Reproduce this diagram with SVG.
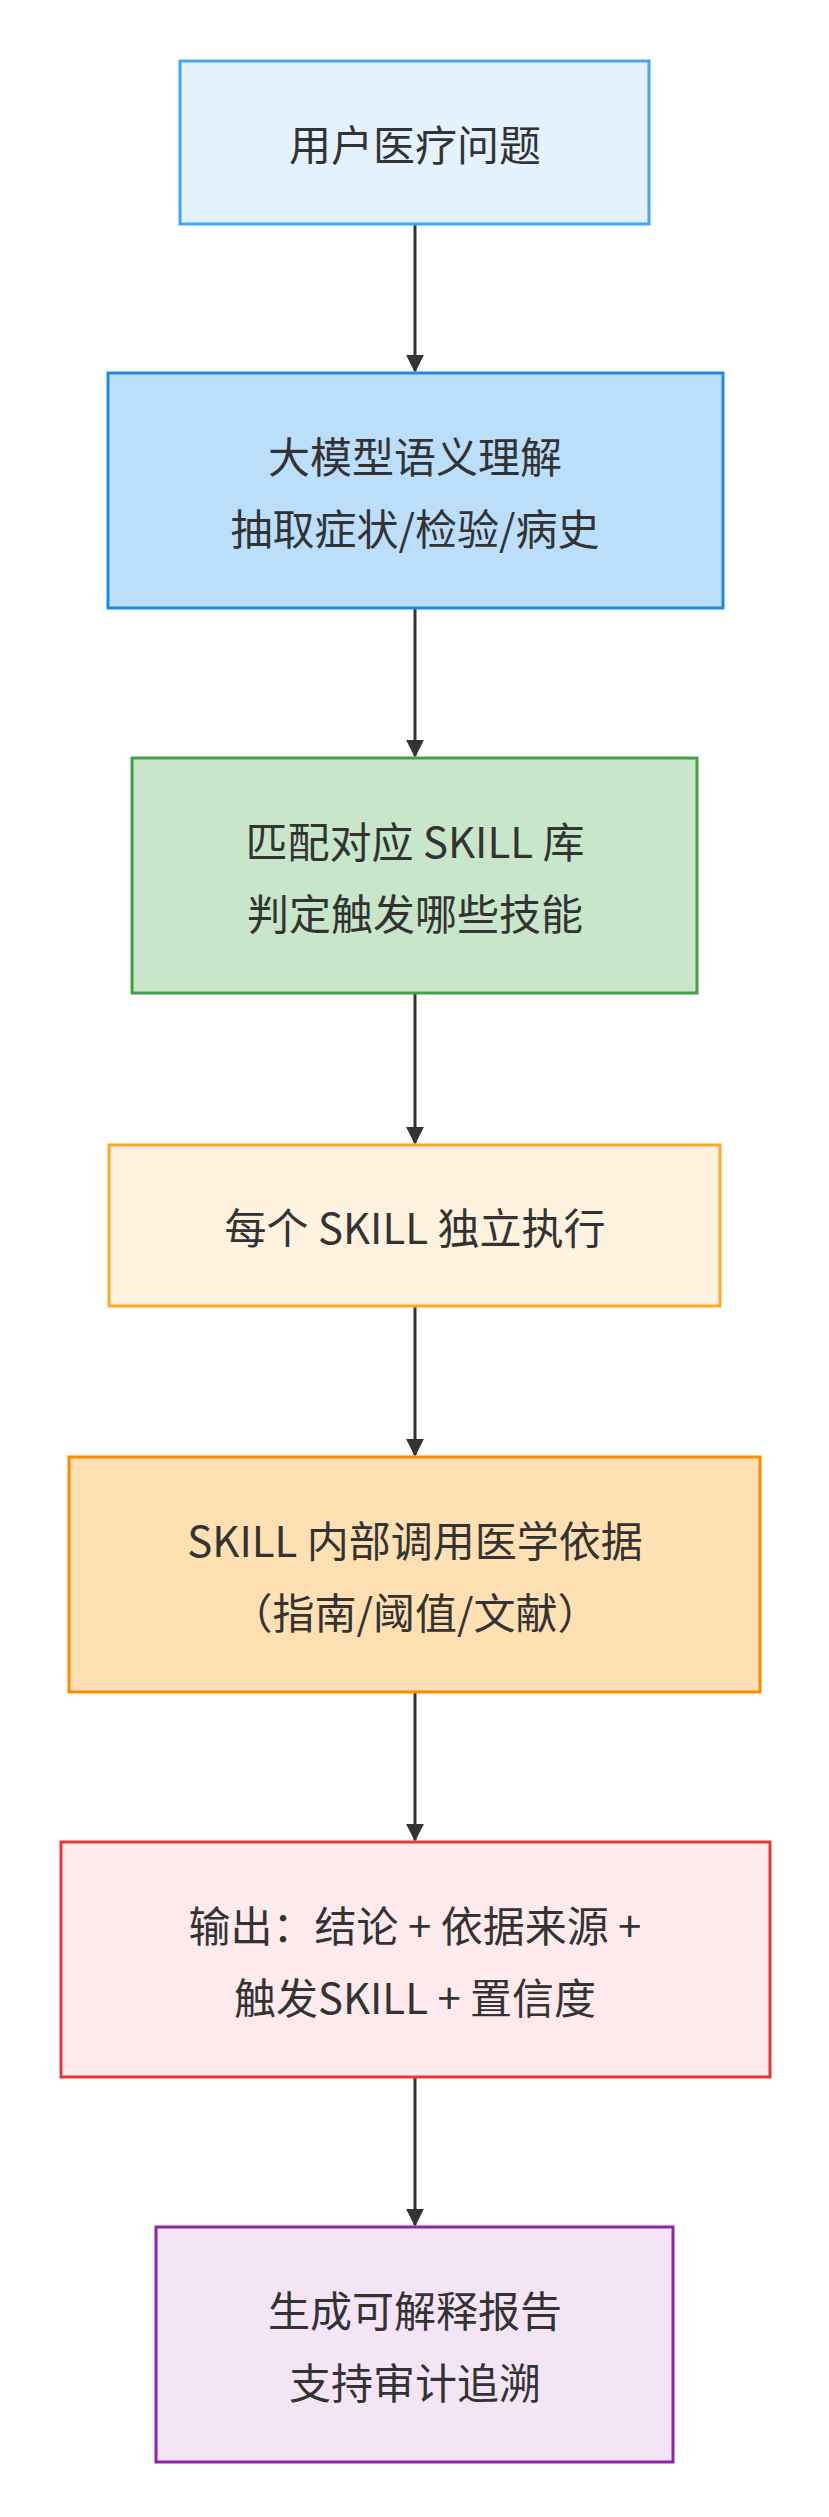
<svg xmlns="http://www.w3.org/2000/svg" width="829" height="2517" viewBox="0 0 829 2517">
<style>
text{font-family:"Noto Sans CJK SC","Noto Sans",sans-serif;font-size:42px;fill:#333;text-anchor:middle;dominant-baseline:central}
rect{stroke-width:3}
.e{stroke:#333;stroke-width:3;fill:none;marker-end:url(#a)}
</style>
<defs><marker id="a" viewBox="0 0 10 10" refX="9" refY="5" markerWidth="6" markerHeight="6" orient="auto"><path d="M0,0L10,5L0,10z" fill="#333"/></marker></defs>
<rect width="829" height="2517" fill="#fff" style="stroke:none"/>
<g id="connectors">
<line class="e" x1="415" y1="224" x2="415" y2="371"/>
<line class="e" x1="415" y1="608" x2="415" y2="756"/>
<line class="e" x1="415" y1="993" x2="415" y2="1143"/>
<line class="e" x1="415" y1="1306" x2="415" y2="1455"/>
<line class="e" x1="415" y1="1692" x2="415" y2="1840"/>
<line class="e" x1="415" y1="2077" x2="415" y2="2225"/>
</g>
<g id="n1"><rect x="180" y="61" width="469" height="163" fill="#e3f2fd" stroke="#42a5f5"/><text x="415" y="142">用户医疗问题</text></g>
<g id="n2"><rect x="108" y="373" width="615" height="235" fill="#bbdefb" stroke="#1e88e5"/><text x="415" y="454">大模型语义理解</text><text x="415" y="526">抽取症状/检验/病史</text></g>
<g id="n3"><rect x="132" y="758" width="565" height="235" fill="#c8e6c9" stroke="#43a047"/><text x="415" y="839">匹配对应 SKILL 库</text><text x="415" y="911">判定触发哪些技能</text></g>
<g id="n4"><rect x="109" y="1145" width="611" height="161" fill="#fff3e0" stroke="#ffa726"/><text x="415" y="1225">每个 SKILL 独立执行</text></g>
<g id="n5"><rect x="69" y="1457" width="691" height="235" fill="#ffe0b2" stroke="#fb8c00"/><text x="415" y="1538">SKILL 内部调用医学依据</text><text x="415" y="1610">（指南/阈值/文献）</text></g>
<g id="n6"><rect x="61" y="1842" width="709" height="235" fill="#ffebee" stroke="#e53935"/><text x="415" y="1923">输出：结论 + 依据来源 +</text><text x="415" y="1995">触发SKILL + 置信度</text></g>
<g id="n7"><rect x="156" y="2227" width="517" height="235" fill="#f3e5f5" stroke="#8e24aa"/><text x="415" y="2308">生成可解释报告</text><text x="415" y="2380">支持审计追溯</text></g>
</svg>
